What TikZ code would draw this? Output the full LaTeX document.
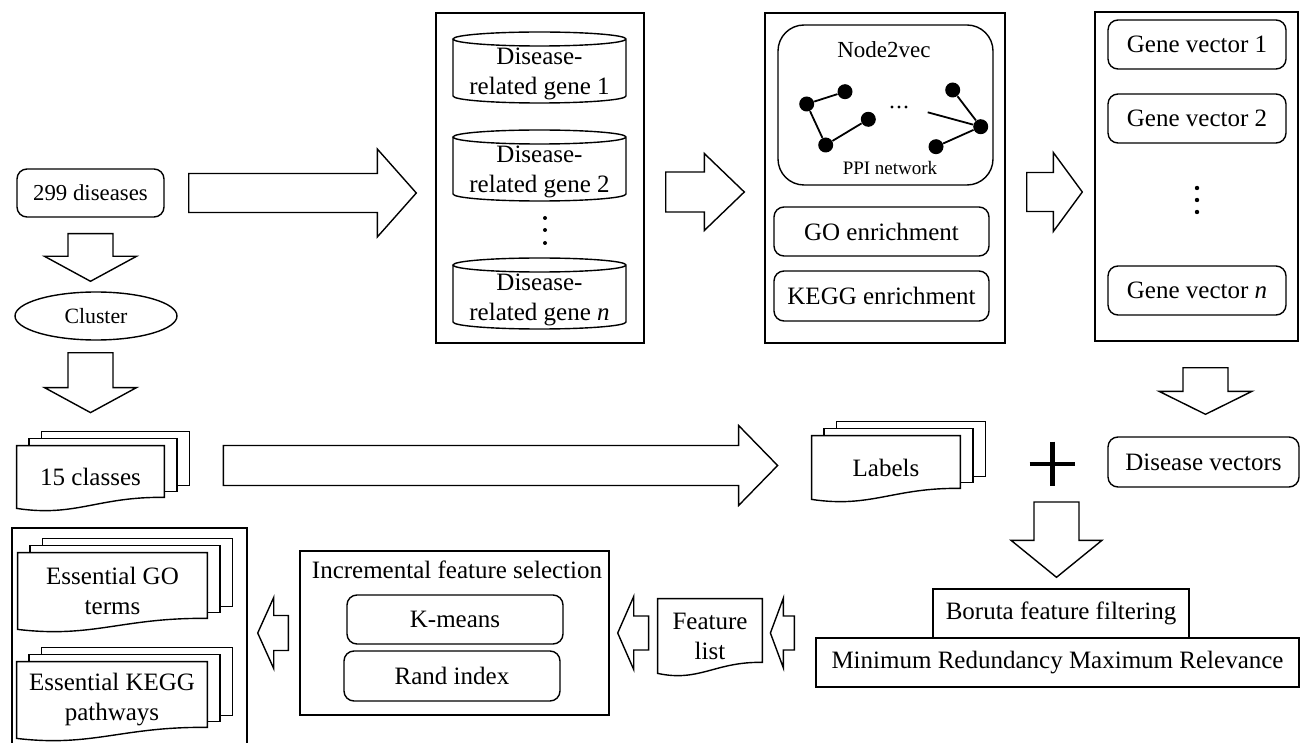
\documentclass[tikz,border=0pt]{standalone}
\usepackage{fontspec}
\setmainfont{Liberation Serif}
\usetikzlibrary{calc, shapes.geometric}

% block arrow: from, to, shaft half width, head half width, head length
\newcommand{\fatarrow}[5]{%
  \coordinate (hb) at ($(#2)!#5!(#1)$);
  \draw[fatline] ($(#1)!#3!90:(#2)$) -- ($(hb)!#3!90:(#2)$) -- ($(hb)!#4!90:(#2)$) -- (#2)
    -- ($(hb)!#4!-90:(#2)$) -- ($(hb)!#3!-90:(#2)$) -- ($(#1)!#3!-90:(#2)$) -- cycle;}

% document sheet with wavy bottom round a node
\newcommand{\docshape}[1]{%
  \draw[docline] let \p1=(#1.south west), \p2=(#1.north east) in
    (\x1,\y2) -- (\x2,\y2) -- (\x2,{\y1+5.5pt})
    .. controls ({\x2-0.45*(\x2-\x1)},{\y1+6pt}) and ({\x1+0.4*(\x2-\x1)},{\y1-4.5pt}) .. (\x1,\y1) -- cycle;}

% stack of three sheets
\newcommand{\docstack}[1]{%
  \draw[docline] let \p1=(#1.south west), \p2=(#1.north east) in
    ({\x1+6.25pt},\y2) -- ({\x1+6.25pt},{\y2+3.6pt}) -- ({\x2+6.25pt},{\y2+3.6pt}) -- ({\x2+6.25pt},{\y1+8.5pt}) -- (\x2,{\y1+8.5pt})
    ({\x1+12.5pt},{\y2+3.6pt}) -- ({\x1+12.5pt},{\y2+7.2pt}) -- ({\x2+12.5pt},{\y2+7.2pt}) -- ({\x2+12.5pt},{\y1+11.5pt}) -- ({\x2+6.25pt},{\y1+11.5pt});
  \docshape{#1}}

\begin{document}
\begin{tikzpicture}[
    x=0.5pt, y=-0.5pt,
    font=\fontsize{12.5}{15}\selectfont,
    every node/.style={inner sep=0pt},
    container/.style={draw, rectangle, line width=0.7pt},
    rbox/.style={draw, rectangle, rounded corners=5pt, line width=0.7pt, align=center},
    sbox/.style={draw, rectangle, line width=0.7pt, align=center},
    docpage/.style={align=center},
    cyltext/.style={align=center},
    docline/.style={line width=0.7pt},
    fatline/.style={draw, fill=white, line width=0.7pt, line join=miter},
    ppinode/.style={circle, fill=black, minimum size=7.5pt}
  ]
  \path[use as bounding box] (0,0) rectangle (1301,743);
  \clip (0,0) rectangle (1301,743);

  % left column
  \node[rbox, minimum width=73.5pt, minimum height=24pt, font=\fontsize{11.4}{13}\selectfont] (dis) at (90.5,193) {299 diseases};
  \node[ellipse, draw, line width=0.7pt, minimum width=81pt, minimum height=24pt, font=\fontsize{10.9}{13}\selectfont] (clu) at (96,316) {Cluster};
  \node[docpage, minimum width=73.5pt, minimum height=31pt] (cls) at (90.5,477) {15 classes};

  % gene sets
  \node[container, minimum width=104pt, minimum height=165pt] (gcon) at (540,178) {};
  \node[cyltext] (g1) at (539.5,74) {Disease-\\related gene 1};
  \node[cyltext] (g2) at (539.5,172) {Disease-\\related gene 2};
  \node[cyltext] (gn) at (539.5,300) {Disease-\\related gene \textit{n}};
  \foreach \cy in {g1,g2,gn}
    \draw[docline] ($(\cy)+(-86.5,-35)$) -- ($(\cy)+(-86.5,22)$)
      arc[start angle=180, end angle=360, x radius=43.25pt, y radius=3.5pt]
      -- ($(\cy)+(86.5,-35)$) arc[start angle=0, end angle=360, x radius=43.25pt, y radius=3.5pt];
  \foreach \yy in {218,230,243} \fill (545,\yy) circle (1pt);

  % network embedding and enrichment
  \node[container, minimum width=120pt, minimum height=165pt] (ncon) at (885,178) {};
  \node[rbox, rounded corners=13pt, minimum width=107.5pt, minimum height=80pt] (n2v) at (885.5,105) {};
  \node[font=\fontsize{11.5}{13}\selectfont] (n2vt) at (884,50) {Node2vec};
  \node[font=\fontsize{9.5}{11}\selectfont] (ppi) at (890,168) {PPI network};
  \foreach \pn/\pp in {p1/{806.7,104}, p2/{845,91.7}, p3/{825.7,145}, p4/{868.3,119.3},
                      p5/{952.7,90}, p6/{980.7,126.7}, p7/{936,146.7}}
    \node[ppinode] (\pn) at (\pp) {};
  \coordinate (pfree) at (927.7,112.3);
  \foreach \xx in {892,899,906} \fill (\xx,107) circle (0.8pt);
  \draw[line width=0.9pt] (p1) -- (p2) (p1) -- (p3) (p3) -- (p4) (p5) -- (p6) (p7) -- (p6) (pfree) -- (p6);
  \node[rbox, minimum width=107.5pt, minimum height=24.5pt] (goe) at (881.5,231.5) {GO enrichment};
  \node[rbox, minimum width=107.5pt, minimum height=25pt] (kegg) at (881.5,296) {KEGG enrichment};

  % gene vectors
  \node[container, minimum width=101.5pt, minimum height=164.5pt] (vcon) at (1196.5,176.5) {};
  \node[rbox, minimum width=89pt, minimum height=24.5pt] (gv1) at (1197,44.5) {Gene vector 1};
  \node[rbox, minimum width=89pt, minimum height=24.5pt] (gv2) at (1197,118.5) {Gene vector 2};
  \node[rbox, minimum width=89pt, minimum height=24.5pt] (gvn) at (1197,290.5) {Gene vector \textit{n}};
  \foreach \yy in {188,200,212} \fill (1197,\yy) circle (1.1pt);

  % middle row
  \node[rbox, minimum width=95.5pt, minimum height=25pt] (dv) at (1203.5,462) {Disease vectors};
  \node[docpage, minimum width=74pt, minimum height=31.5pt] (lab) at (886,467.5) {Labels};
  \node[minimum width=22.5pt, minimum height=22pt] (plus) at (1052.5,464) {};
  \draw[line width=2.4pt] (plus.west) -- (plus.east) (plus.north) -- (plus.south);

  % bottom row
  \node[sbox, minimum width=128pt, minimum height=24.5pt] (bor) at (1061,613.5) {Boruta feature filtering};
  \node[sbox, minimum width=241.5pt, minimum height=24.5pt] (mrmr) at (1057.5,662.5) {Minimum Redundancy Maximum Relevance};
  \node[docpage, minimum width=52pt, minimum height=37pt] (flist) at (710,636) {Feature\\list};
  \node[container, minimum width=154.5pt, minimum height=82pt] (icon) at (454.5,633) {};
  \node (ifs) at (457,570) {Incremental feature selection};
  \node[rbox, minimum width=108pt, minimum height=24.5pt] (kms) at (455,619.5) {K-means};
  \node[rbox, minimum width=108pt, minimum height=25pt] (rnd) at (452,676) {Rand index};
  \node[container, minimum width=117.5pt, minimum height=116pt] (econ) at (129.5,644) {};
  \node[docpage, minimum width=94.5pt, minimum height=38pt] (ego) at (112.5,591) {Essential GO\\terms};
  \node[docpage, minimum width=95pt, minimum height=38pt] (ekg) at (112,700) {Essential KEGG\\pathways};

  \foreach \nm in {cls,lab,ego,ekg} \docstack{\nm};
  \docshape{flist}

  % arrow ends
  \coordinate (a1s) at ($(dis.east)+(24,0)$);
  \coordinate (a1e) at ($(gcon.west |- a1s)+(-19,0)$);
  \coordinate (a2s) at ($(dis.south)+(0,16)$);
  \coordinate (a2e) at ($(a2s |- clu.north)+(0,-10)$);
  \coordinate (a3s) at ($(a2s |- clu.south)+(0,12)$);
  \coordinate (a3e) at ($(a2s |- cls.north)+(0,-33)$);
  \coordinate (a4s) at ($(cls.east)+(59,-11.5)$);
  \coordinate (a4e) at ($(lab.west |- a4s)+(-34,0)$);
  \coordinate (a5s) at ($(gcon.east |- a1s)+(21,-1)$);
  \coordinate (a5e) at ($(ncon.west |- a5s)+(-20,0)$);
  \coordinate (a6s) at ($(ncon.east |- a5s)+(21,0)$);
  \coordinate (a6e) at ($(vcon.west |- a5s)+(-12,0)$);
  \coordinate (a7s) at ($(vcon.south)+(9,26)$);
  \coordinate (a7e) at ($(a7s |- dv.north)+(0,-22)$);
  \coordinate (a8s) at ($(plus)+(4,38)$);
  \coordinate (a8e) at ($(a8s |- bor.north)+(0,-11)$);
  \coordinate (a9s) at ($(mrmr.west |- flist)+(-21,-3)$);
  \coordinate (a9e) at ($(flist.east |- a9s)+(8,0)$);
  \coordinate (a10s) at ($(flist.west |- a9s)+(-9,0)$);
  \coordinate (a10e) at ($(icon.east |- a9s)+(8,0)$);
  \coordinate (a11s) at ($(icon.west |- a9s)+(-11,0)$);
  \coordinate (a11e) at ($(econ.east |- a9s)+(10,0)$);

  % block arrows
  \fatarrow{a1s}{a1e}{9.75pt}{22pt}{19.5pt}
  \fatarrow{a2s}{a2e}{11.25pt}{23pt}{12.5pt}
  \fatarrow{a3s}{a3e}{11.25pt}{23pt}{12.5pt}
  \fatarrow{a4s}{a4e}{10pt}{20pt}{19.5pt}
  \fatarrow{a5s}{a5e}{10pt}{19.25pt}{20pt}
  \fatarrow{a6s}{a6e}{9.75pt}{19.75pt}{14.5pt}
  \fatarrow{a7s}{a7e}{11.25pt}{23.25pt}{11.5pt}
  \fatarrow{a8s}{a8e}{11.25pt}{22.75pt}{18.5pt}
  \fatarrow{a9s}{a9e}{8.5pt}{17.5pt}{6.5pt}
  \fatarrow{a10s}{a10e}{8.5pt}{18.25pt}{8pt}
  \fatarrow{a11s}{a11e}{8.75pt}{17.75pt}{8pt}
\end{tikzpicture}
\end{document}
